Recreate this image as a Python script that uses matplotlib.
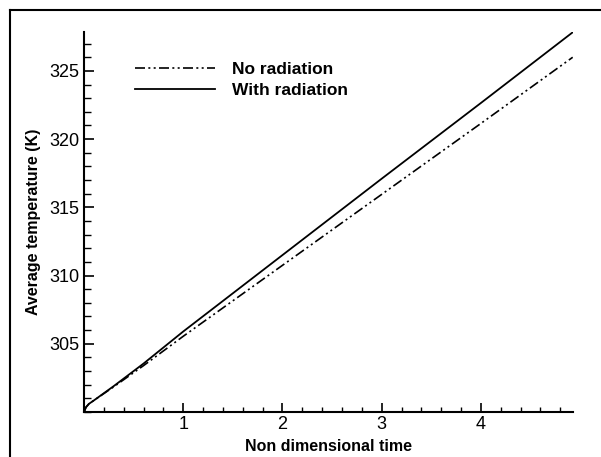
import matplotlib
matplotlib.use("Agg")
import matplotlib.pyplot as plt
from matplotlib.lines import Line2D
from matplotlib.ticker import MultipleLocator

plt.rcParams['font.family'] = ['Liberation Sans', 'DejaVu Sans']

time = [0.0, 0.02, 0.05, 0.1, 0.3, 0.6, 1.0, 2.0, 3.0, 4.0, 4.925]
no_radiation = [300.0, 300.35, 300.6, 300.85, 301.85, 303.4, 305.55, 310.75, 315.95, 321.15, 326.0]
with_radiation = [300.0, 300.35, 300.6, 300.85, 301.9, 303.55, 305.9, 311.5, 317.1, 322.65, 327.83]

xticks = [1, 2, 3, 4]
yticks = [305, 310, 315, 320, 325]

fig = plt.figure(figsize=(6.01, 4.57), dpi=100)
ax = fig.add_axes([84/601, 1-412/457, (572.7-84)/601, (412-32.3)/457])

dash = (0, (6, 2, 1.2, 2, 1.2, 2))
ax.plot(time, no_radiation, color='black', lw=1.2, linestyle=dash, label='No radiation')
ax.plot(time, with_radiation, color='black', lw=1.3, label='With radiation')

ax.set_xlim(0, 4.925)
ax.set_ylim(300, 327.83)
ax.set_xticks(xticks)
ax.set_yticks(yticks)
ax.xaxis.set_minor_locator(MultipleLocator(0.2))
ax.yaxis.set_minor_locator(MultipleLocator(1))

for s in ['top', 'right']:
    ax.spines[s].set_visible(False)
for s in ['left', 'bottom']:
    ax.spines[s].set_linewidth(1.5)

ax.tick_params(axis='x', which='major', direction='in', length=6.5, width=1.2, labelsize=13, pad=3)
ax.tick_params(axis='x', which='minor', direction='in', length=3.3, width=1.0)
ax.tick_params(axis='y', which='major', direction='in', length=7.2, width=1.2, labelsize=13, pad=3)
ax.tick_params(axis='y', which='minor', direction='in', length=4.8, width=1.0)

ax.set_xlabel('Non dimensional time', fontsize=11.5, fontweight='bold', labelpad=4)
ax.set_ylabel('Average temperature (K)', fontsize=11.5, fontweight='bold', labelpad=6)

leg = ax.legend(loc='upper left', bbox_to_anchor=(0.09, 0.94), frameon=False,
                prop={'weight': 'bold', 'size': 12.5}, handlelength=4.6, handletextpad=1.0,
                labelspacing=0.35, borderaxespad=0)

# figure frame (left and top edges)
fig.add_artist(Line2D([10.5/601, 10.5/601], [0, 1-10/457], transform=fig.transFigure, color='black', lw=1.5))
fig.add_artist(Line2D([10.5/601, 1.0], [1-10/457, 1-10/457], transform=fig.transFigure, color='black', lw=1.5))

fig.savefig('out.png', dpi=100)
